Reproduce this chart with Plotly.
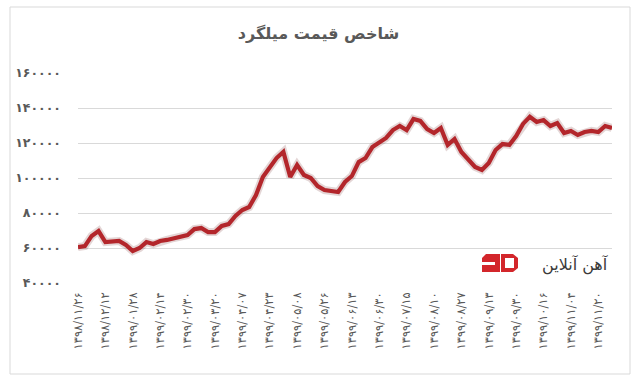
import plotly.graph_objects as go

# ---- data ----
values = [60500, 61100, 66900, 69700, 63400, 64000, 64000, 61700, 58300, 60000,
          63400, 62300, 64000, 64600, 65700, 66300, 67400, 70800, 71400, 69100,
          69100, 72600, 73700, 78300, 81700, 83400, 90300, 100600, 106300, 111400,
          114900, 100600, 107400, 101700, 100000, 95400, 93100, 92600, 92000, 97700,
          101100, 109100, 111400, 117700, 120600, 122900, 127400, 129700, 127400, 133700,
          132600, 128000, 125700, 128600, 118900, 122300, 114900, 110300, 106300, 104600,
          108600, 116000, 119400, 118900, 124000, 130900, 135000, 132000, 133100, 129700,
          131400, 125700, 126900, 124600, 126300, 126900, 126300, 129700, 128600]

date_labels = ["۱۳۹۸/۱۱/۲۶", "۱۳۹۸/۱۲/۱۲", "۱۳۹۹/۰۱/۲۸", "۱۳۹۹/۰۲/۱۴", "۱۳۹۹/۰۲/۳۰",
               "۱۳۹۹/۰۳/۲۰", "۱۳۹۹/۰۴/۰۷", "۱۳۹۹/۰۴/۲۳", "۱۳۹۹/۰۵/۰۸", "۱۳۹۹/۰۵/۲۶",
               "۱۳۹۹/۰۶/۱۳", "۱۳۹۹/۰۶/۳۰", "۱۳۹۹/۰۷/۱۵", "۱۳۹۹/۰۸/۱۰", "۱۳۹۹/۰۸/۲۷",
               "۱۳۹۹/۰۹/۱۳", "۱۳۹۹/۰۹/۳۰", "۱۳۹۹/۱۰/۱۶", "۱۳۹۹/۱۱/۰۴", "۱۳۹۹/۱۱/۲۰"]
label_step = 4

y_tick_values = [40000, 60000, 80000, 100000, 120000, 140000, 160000]
y_tick_labels = ["۴۰۰۰۰", "۶۰۰۰۰", "۸۰۰۰۰", "۱۰۰۰۰۰", "۱۲۰۰۰۰", "۱۴۰۰۰۰", "۱۶۰۰۰۰"]

title_text = "شاخص قیمت میلگرد"
brand_text = "آهن آنلاین"

# ---- figure ----
W, H = 637, 385
L, R, T, B = 78, 25, 73, 102
PW, PH = W - L - R, H - T - B

x = list(range(len(values)))

fig = go.Figure()
fig.add_trace(go.Scatter(x=x, y=values, mode="lines",
                         line=dict(color="rgba(90,0,0,0.16)", width=8),
                         hoverinfo="skip", showlegend=False))
fig.add_trace(go.Scatter(x=x, y=values, mode="lines",
                         line=dict(color="#b3262b", width=4.2),
                         showlegend=False))

def px(xp):
    return (xp - L) / PW

def py(yp):
    return (H - B - yp) / PH

shapes = []
# outer chart border
shapes.append(dict(type="rect", xref="paper", yref="paper",
                   x0=px(10), x1=px(630), y0=py(7), y1=py(374),
                   line=dict(color="#d9d9d9", width=1), fillcolor="rgba(0,0,0,0)",
                   layer="below"))
# logo backdrop
shapes.append(dict(type="rect", xref="paper", yref="paper",
                   x0=px(476), x1=px(612), y0=py(249), y1=py(281),
                   line=dict(width=0), fillcolor="white", layer="above"))

def path(points):
    return "M " + " L ".join(f"{px(a)},{py(b)}" for a, b in points) + " Z"

# logo: left piece
shapes.append(dict(type="path", xref="paper", yref="paper",
                   path=path([(486, 254), (500, 254), (500, 272), (482, 272), (482, 258)]),
                   fillcolor="#d3262b", line=dict(width=0), layer="above"))
shapes.append(dict(type="rect", xref="paper", yref="paper",
                   x0=px(482), x1=px(495), y0=py(262), y1=py(265),
                   fillcolor="white", line=dict(width=0), layer="above"))
# logo: right piece (D)
shapes.append(dict(type="path", xref="paper", yref="paper",
                   path=path([(501, 254), (513, 254), (518, 258), (518, 268), (513, 272), (501, 272)]),
                   fillcolor="#d3262b", line=dict(width=0), layer="above"))
shapes.append(dict(type="rect", xref="paper", yref="paper",
                   x0=px(505), x1=px(514), y0=py(258), y1=py(268),
                   fillcolor="white", line=dict(width=0), layer="above"))

fig.update_layout(
    width=W, height=H,
    margin=dict(l=L, r=R, t=T, b=B),
    paper_bgcolor="white", plot_bgcolor="white",
    title=dict(text=title_text, x=0.5, xref="container", xanchor="center",
               y=1 - 33 / H, yref="container", yanchor="middle",
               font=dict(family="DejaVu Sans", size=16, color="#595959", weight="bold")),
    shapes=shapes,
    annotations=[dict(text=brand_text, xref="paper", yref="paper",
                      x=px(575), y=py(265), xanchor="center", yanchor="middle",
                      showarrow=False,
                      font=dict(family="DejaVu Sans", size=16, color="#3a3a3a"))],
)

fig.update_xaxes(range=[0, len(values) - 1],
                 tickmode="array",
                 tickvals=[i * label_step for i in range(len(date_labels))],
                 ticktext=date_labels, tickangle=-90,
                 tickfont=dict(family="DejaVu Sans", size=11.5, color="#595959"),
                 showgrid=False, zeroline=False, showline=False, ticks="",
                 ticklabelstandoff=6)
fig.update_yaxes(range=[40000, 160000],
                 tickmode="array", tickvals=y_tick_values, ticktext=y_tick_labels,
                 tickfont=dict(family="DejaVu Sans", size=12.5, color="#595959", weight="bold"),
                 showgrid=True, gridcolor="#d9d9d9", gridwidth=1,
                 zeroline=False, showline=False, ticks="",
                 ticklabelstandoff=16)

fig.write_html("out.html", config={"displayModeBar": False},
               post_script="document.body.style.margin='0';")
